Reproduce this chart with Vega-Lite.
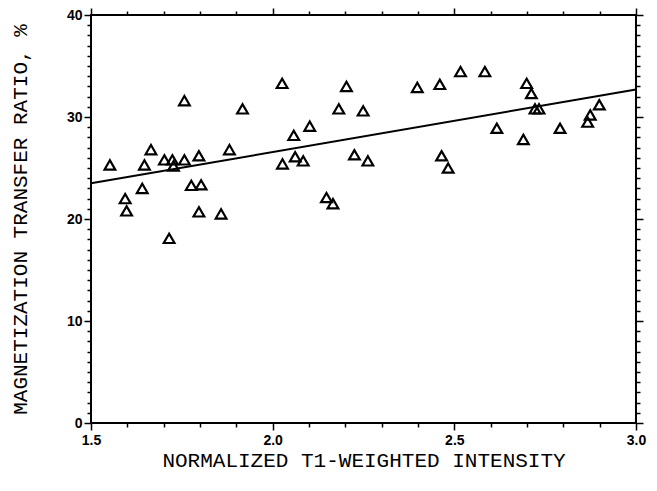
{
  "$schema": "https://vega.github.io/schema/vega-lite/v6.json",
  "width": 545,
  "height": 408,
  "autosize": "none",
  "padding": {"left": 91, "top": 15, "right": 21, "bottom": 68},
  "background": "white",
  "config": {
    "view": {"stroke": "black", "strokeWidth": 2},
    "axis": {
      "grid": false,
      "domain": false,
      "ticks": true,
      "tickColor": "black",
      "tickWidth": 1.5,
      "labelColor": "black",
      "labelFont": "Liberation Sans",
      "labelFontSize": 14,
      "labelFontWeight": "bold",
      "titleColor": "black",
      "titleFont": "Liberation Mono",
      "titleFontSize": 21,
      "titleFontWeight": "normal"
    }
  },
  "datasets": {
    "points": [
      {"intensity": 1.552, "mtr": 25.3},
      {"intensity": 1.594, "mtr": 22.0},
      {"intensity": 1.598, "mtr": 20.8},
      {"intensity": 1.641, "mtr": 23.0},
      {"intensity": 1.647, "mtr": 25.3},
      {"intensity": 1.665, "mtr": 26.8},
      {"intensity": 1.702, "mtr": 25.8},
      {"intensity": 1.724, "mtr": 25.8},
      {"intensity": 1.727, "mtr": 25.2},
      {"intensity": 1.715, "mtr": 18.1},
      {"intensity": 1.757, "mtr": 25.8},
      {"intensity": 1.757, "mtr": 31.6},
      {"intensity": 1.776, "mtr": 23.3},
      {"intensity": 1.797, "mtr": 26.2},
      {"intensity": 1.803, "mtr": 23.35},
      {"intensity": 1.797, "mtr": 20.7},
      {"intensity": 1.858, "mtr": 20.5},
      {"intensity": 1.881, "mtr": 26.8},
      {"intensity": 1.917, "mtr": 30.8},
      {"intensity": 2.027, "mtr": 25.4},
      {"intensity": 2.026, "mtr": 33.3},
      {"intensity": 2.058, "mtr": 28.2},
      {"intensity": 2.062, "mtr": 26.1},
      {"intensity": 2.084, "mtr": 25.7},
      {"intensity": 2.102, "mtr": 29.1},
      {"intensity": 2.148, "mtr": 22.1},
      {"intensity": 2.166, "mtr": 21.5},
      {"intensity": 2.182, "mtr": 30.8},
      {"intensity": 2.203, "mtr": 33.0},
      {"intensity": 2.225, "mtr": 26.3},
      {"intensity": 2.249, "mtr": 30.6},
      {"intensity": 2.262, "mtr": 25.7},
      {"intensity": 2.398, "mtr": 32.9},
      {"intensity": 2.46, "mtr": 33.2},
      {"intensity": 2.465, "mtr": 26.2},
      {"intensity": 2.483, "mtr": 25.0},
      {"intensity": 2.517, "mtr": 34.45},
      {"intensity": 2.584, "mtr": 34.45},
      {"intensity": 2.617, "mtr": 28.9},
      {"intensity": 2.69, "mtr": 27.8},
      {"intensity": 2.699, "mtr": 33.3},
      {"intensity": 2.712, "mtr": 32.3},
      {"intensity": 2.722, "mtr": 30.8},
      {"intensity": 2.733, "mtr": 30.8},
      {"intensity": 2.791, "mtr": 28.9},
      {"intensity": 2.867, "mtr": 29.5},
      {"intensity": 2.874, "mtr": 30.2},
      {"intensity": 2.899, "mtr": 31.2}
    ],
    "fit": [
      {"intensity": 1.5, "mtr": 23.5},
      {"intensity": 3.0, "mtr": 32.7}
    ]
  },
  "layer": [
    {
      "data": {"name": "points"},
      "mark": {"type": "point", "shape": "triangle-up", "filled": false, "stroke": "black", "strokeWidth": 2.2, "size": 115, "opacity": 1},
      "encoding": {
        "x": {
          "field": "intensity", "type": "quantitative",
          "scale": {"domain": [1.5, 3.0], "nice": false, "zero": false},
          "axis": {
            "orient": "bottom",
            "values": [1.5, 2.0, 2.5, 3.0],
            "format": ".1f",
            "tickSize": 7,
            "labelFlush": false,
            "labelOverlap": false,
            "labelPadding": 3,
            "title": "NORMALIZED T1-WEIGHTED INTENSITY",
            "titlePadding": 2
          }
        },
        "y": {
          "field": "mtr", "type": "quantitative",
          "scale": {"domain": [0, 40], "nice": false},
          "axis": {
            "orient": "left",
            "values": [0, 10, 20, 30, 40],
            "tickSize": 7,
            "labelFlush": false,
            "labelOverlap": false,
            "labelPadding": 2,
            "title": "MAGNETIZATION TRANSFER RATIO, %",
            "titlePadding": 36
          }
        }
      }
    },
    {
      "data": {"name": "fit"},
      "mark": {"type": "line", "color": "black", "strokeWidth": 2},
      "encoding": {
        "x": {
          "field": "intensity", "type": "quantitative",
          "axis": {"orient": "top", "values": [1.5, 2.0, 2.5, 3.0], "labels": false, "tickSize": 7, "title": null}
        },
        "y": {
          "field": "mtr", "type": "quantitative",
          "axis": {"orient": "right", "values": [0, 10, 20, 30, 40], "labels": false, "tickSize": 7, "title": null}
        }
      }
    },
    {
      "data": {"name": "fit"},
      "mark": {"type": "line", "opacity": 0},
      "encoding": {
        "x": {
          "field": "intensity", "type": "quantitative",
          "axis": {"orient": "bottom", "values": [1.6, 1.7, 1.8, 1.9, 2.1, 2.2, 2.3, 2.4, 2.6, 2.7, 2.8, 2.9], "labels": false, "tickSize": 4, "title": null}
        },
        "y": {
          "field": "mtr", "type": "quantitative",
          "axis": {"orient": "left", "values": [1,2,3,4,5,6,7,8,9,11,12,13,14,15,16,17,18,19,21,22,23,24,25,26,27,28,29,31,32,33,34,35,36,37,38,39], "labels": false, "tickSize": 4, "title": null}
        }
      }
    },
    {
      "data": {"name": "fit"},
      "mark": {"type": "line", "opacity": 0},
      "encoding": {
        "x": {
          "field": "intensity", "type": "quantitative",
          "axis": {"orient": "top", "values": [1.6, 1.7, 1.8, 1.9, 2.1, 2.2, 2.3, 2.4, 2.6, 2.7, 2.8, 2.9], "labels": false, "tickSize": 4, "title": null}
        },
        "y": {
          "field": "mtr", "type": "quantitative",
          "axis": {"orient": "right", "values": [1,2,3,4,5,6,7,8,9,11,12,13,14,15,16,17,18,19,21,22,23,24,25,26,27,28,29,31,32,33,34,35,36,37,38,39], "labels": false, "tickSize": 4, "title": null}
        }
      }
    }
  ],
  "resolve": {"axis": {"x": "independent", "y": "independent"}}
}
